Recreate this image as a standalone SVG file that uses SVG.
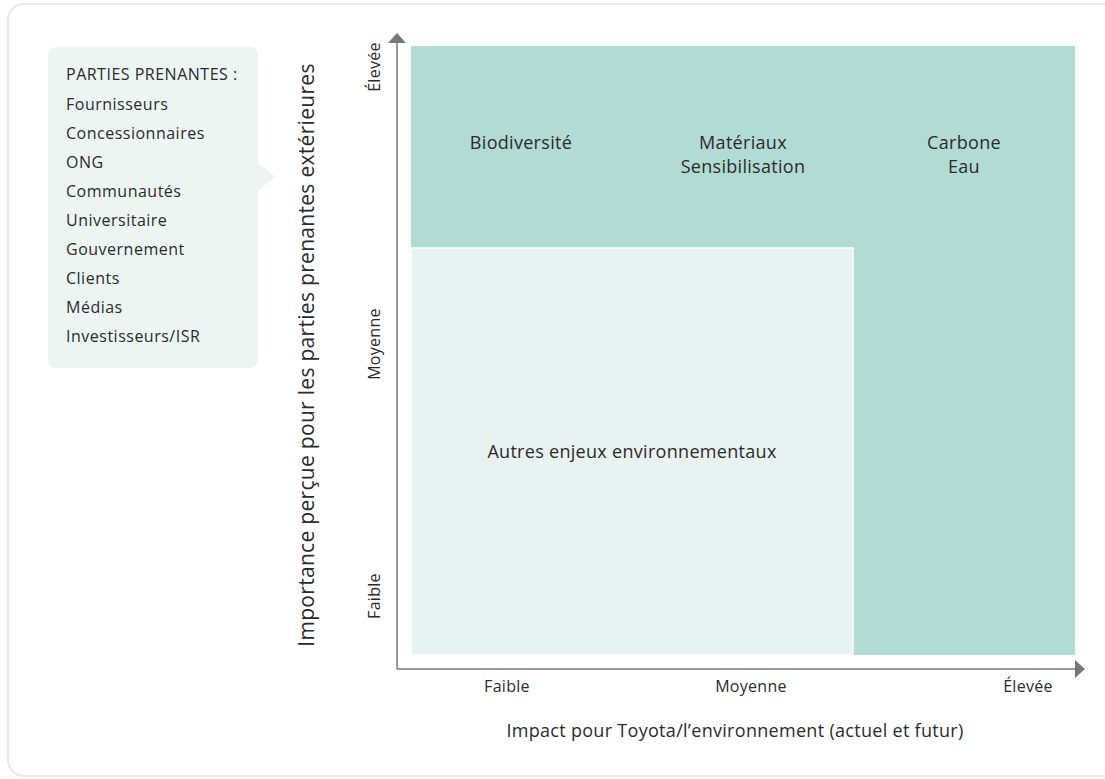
<svg xmlns="http://www.w3.org/2000/svg" width="1105" height="779" viewBox="0 0 1105 779">
  <style>
    text { font-family: "Open Sans", "Noto Sans", sans-serif; fill: #2b2b2b; }
    .lst { font-size: 16px; letter-spacing: 0.5px; }
    .cell { font-size: 18px; letter-spacing: 0.3px; text-anchor: middle; }
    .tick { font-size: 16px; letter-spacing: 0.3px; text-anchor: middle; }
    .ttl { font-size: 18px; letter-spacing: 0.3px; text-anchor: middle; }
    .ytl { font-size: 21px; letter-spacing: 0.3px; text-anchor: middle; }
    .axis { stroke: #777777; stroke-width: 1.5; fill: none; }
  </style>
  <defs>
    <marker id="arr" viewBox="0 0 10 18" refX="0" refY="9" markerWidth="10" markerHeight="18" markerUnits="userSpaceOnUse" orient="auto">
      <path d="M0,0 L10,9 L0,18 Z" fill="#777777"/>
    </marker>
  </defs>

  <!-- card frame -->
  <rect x="8" y="4" width="1120" height="772" rx="16" fill="#ffffff" stroke="#e8e8e8" stroke-width="2"/>

  <!-- stakeholder list callout -->
  <g id="stakeholders">
    <rect x="48" y="47" width="210" height="321" rx="8" fill="#edf5f3"/>
    <path d="M258,163 L276,177 L258,191 Z" fill="#edf5f3"/>
    <text class="lst" x="66" y="80">PARTIES PRENANTES :</text>
    <text class="lst" x="66" y="110">Fournisseurs</text>
    <text class="lst" x="66" y="139">Concessionnaires</text>
    <text class="lst" x="66" y="168">ONG</text>
    <text class="lst" x="66" y="197">Communautés</text>
    <text class="lst" x="66" y="226">Universitaire</text>
    <text class="lst" x="66" y="255">Gouvernement</text>
    <text class="lst" x="66" y="284">Clients</text>
    <text class="lst" x="66" y="313">Médias</text>
    <text class="lst" x="66" y="342">Investisseurs/ISR</text>
  </g>

  <!-- matrix zones -->
  <g id="zone-high">
    <rect x="411" y="46" width="664" height="609" fill="#b2dbd3"/>
    <text class="cell" x="521" y="149">Biodiversité</text>
    <text class="cell" x="743" y="149">Matériaux</text>
    <text class="cell" x="743" y="173">Sensibilisation</text>
    <text class="cell" x="964" y="149">Carbone</text>
    <text class="cell" x="964" y="173">Eau</text>
  </g>
  <g id="zone-other">
    <rect x="411" y="248" width="442" height="407" fill="#e8f2f0" stroke="#ffffff" stroke-width="1.5"/>
    <text class="cell" x="632" y="458">Autres enjeux environnementaux</text>
  </g>

  <!-- axes -->
  <g id="axes">
    <path class="axis" d="M397,669 L397,43" marker-end="url(#arr)"/>
    <path class="axis" d="M397,669 L1075,669" marker-end="url(#arr)"/>
  </g>

  <!-- y axis labels -->
  <g id="y-labels">
    <text class="tick" transform="translate(380,67) rotate(-90)">Élevée</text>
    <text class="tick" transform="translate(380,344) rotate(-90)">Moyenne</text>
    <text class="tick" transform="translate(380,596) rotate(-90)">Faible</text>
    <text class="ytl" transform="translate(314,355) rotate(-90)">Importance perçue pour les parties prenantes extérieures</text>
  </g>

  <!-- x axis labels -->
  <g id="x-labels">
    <text class="tick" x="507" y="692">Faible</text>
    <text class="tick" x="751" y="692">Moyenne</text>
    <text class="tick" x="1028" y="692">Élevée</text>
    <text class="ttl" x="735" y="737">Impact pour Toyota/l’environnement (actuel et futur)</text>
  </g>
</svg>
